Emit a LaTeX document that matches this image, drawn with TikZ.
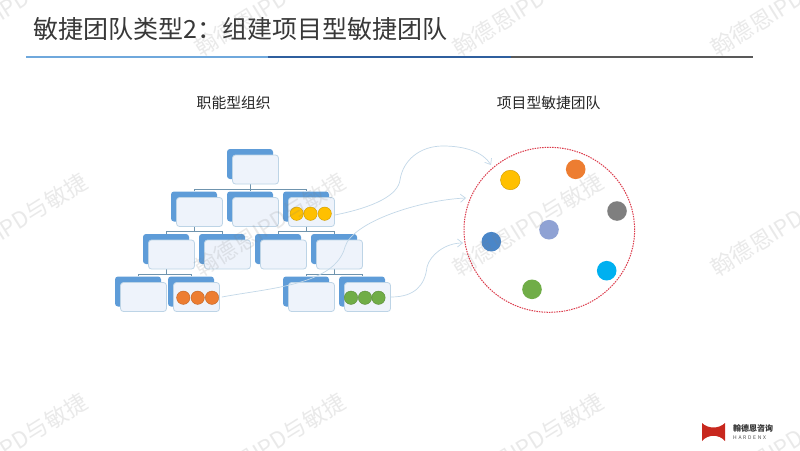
\documentclass[tikz,border=0pt]{standalone}
\usepackage{fontspec}
\setmainfont{Noto Sans CJK SC}
\usepackage{tikz}
\usetikzlibrary{trees,shapes.geometric,arrows.meta}

\definecolor{unitblue}{HTML}{5E9CD8}
\definecolor{unitpale}{HTML}{EEF3FB}
\definecolor{unitedge}{HTML}{BDD4E6}
\definecolor{treeline}{HTML}{6F94AE}
\definecolor{flowline}{HTML}{C3D8E8}
\definecolor{teamred}{HTML}{DC3C4C}
\definecolor{dotyellow}{HTML}{FFC000}
\definecolor{dotorange}{HTML}{ED7D31}
\definecolor{dotgreen}{HTML}{70AD47}
\definecolor{dotgray}{HTML}{7F7F7F}
\definecolor{dotpurple}{HTML}{8FA2D4}
\definecolor{dotblue}{HTML}{4A86C8}
\definecolor{dotcyan}{HTML}{00B0F0}
\definecolor{logored}{HTML}{C8281E}
\definecolor{ruleone}{HTML}{6FA8DC}
\definecolor{ruletwo}{HTML}{2F5F9E}
\definecolor{rulethree}{HTML}{595959}

\begin{document}
\begin{tikzpicture}
[x=1pt,y=-1pt,grow=down,level distance=42.5pt,sibling distance=56pt]
\tikzset{
	unitback/.style = {rectangle, rounded corners=3pt, fill=unitblue, minimum width=46pt, minimum height=30pt, inner sep=0},
	unitfront/.style = {rectangle, rounded corners=3pt, draw=unitedge, line width=.8pt, fill=unitpale, minimum width=46pt, minimum height=29pt, inner sep=0},
	smalldot/.style = {circle, draw=#1!80!black, line width=.4pt, fill=#1, minimum size=13.4pt, inner sep=0},
	teamdot/.style = {circle, fill=#1, minimum size=19.6pt, inner sep=0},
	teamring/.style = {ellipse, draw=teamred, dash pattern=on 1.5pt off 1pt, line width=1pt, minimum width=170.6pt, minimum height=165pt, inner sep=0},
	flow/.style = {draw=flowline, line width=.7pt},
	flowin/.style = {flow, -{Straight Barb[length=5pt,width=8pt]}},
	heading/.style = {text=black!85, font=\fontsize{14.8}{14.8}\selectfont, inner sep=0},
	watermark/.style = {rotate=32, text=gray, opacity=.17, font=\fontsize{22.5}{22.5}\selectfont},
	edge from parent/.style = {draw=treeline, line width=.9pt},
	edge from parent path = {(\tikzparentnode.south) -- ++(0,10) -| (\tikzchildnode.north)}
}

\useasboundingbox (0,0) rectangle (800,450);
\fill[white] (0,0) rectangle (800,450);

% title
\node(title) [anchor=west,text=black!78,font=\fontsize{25}{25}\selectfont,inner sep=0] at (33,29) {敏捷团队类型2：组建项目型敏捷团队};
\fill[ruleone] (25.5,56) rectangle (268,58);
\fill[ruletwo] (268,56) rectangle (511,58);
\fill[rulethree] (511,56) rectangle (753,58);

\node(orglabel) [heading] at (233.7,103) {职能型组织};
\node(teamlabel) [heading] at (548.7,103) {项目型敏捷团队};

% organisation tree
\node(0) [unitback] at (250,164) {}
	child{
		node [unitback] {}
		child{
			node [unitback] {}
			child{
				node [unitback] {}
			}
			child{
				node [unitback,xshift=-3pt] {}
			}
		}
		child{
			node [unitback] {}
		}
	}
	child{
		node [unitback] {}
	}
	child{
		node [unitback] {}
		child{
			node [unitback] {}
		}
		child{
			node [unitback] {}
			child{
				node [unitback] {}
			}
			child{
				node [unitback] {}
			}
		}
	}
;

\foreach \unit in {0,0-1,0-2,0-3,0-1-1,0-1-2,0-3-1,0-3-2,0-1-1-1,0-1-1-2,0-3-2-1,0-3-2-2}
	\node(f\unit) [unitfront] at ([xshift=5.5pt,yshift=-5.5pt]\unit.center) {};

% people in the units
\foreach \i/\px in {1/296.7,2/310.5,3/324.7}
	\node(y\i) [smalldot=dotyellow] at (\px,213.7) {};
\foreach \i/\px in {1/183.3,2/197.7,3/212}
	\node(o\i) [smalldot=dotorange] at (\px,297.7) {};
\foreach \i/\px in {1/351,2/365,3/378.5}
	\node(g\i) [smalldot=dotgreen] at (\px,297.7) {};

% project team
\node(team) [teamring] at (549.3,229.8) {};
\node(tyellow) [teamdot=dotyellow,draw=dotyellow!80!black,line width=.4pt] at (510.3,180) {};
\node(torange) [teamdot=dotorange] at (575.7,169.3) {};
\node(tgray) [teamdot=dotgray] at (617,211) {};
\node(tpurple) [teamdot=dotpurple] at (549,229.7) {};
\node(tblue) [teamdot=dotblue] at (491.3,241.7) {};
\node(tcyan) [teamdot=dotcyan] at (606.7,270.7) {};
\node(tgreen) [teamdot=dotgreen] at (532,289.3) {};

% flows into the team
\coordinate(in1) at (491,165);
\coordinate(in2) at (466,198);
\coordinate(in3) at (463,243);

\draw[flowin] (f0-3.east) ++(0,3) .. controls (375,207) and (398,195) .. (400,180) .. controls (403,160) and (420,146) .. (443,146) .. controls (465,146) and (483,152) .. (in1);
\draw[flowin] (f0-1-1-2.east) ++(2,0) .. controls (270,288) and (335,285) .. (345,247) .. controls (352,222) and (420,200) .. (in2);
\draw[flowin] (f0-3-2-2.east) .. controls (415,297) and (425,285) .. (427,267) .. controls (430,255) and (445,243) .. (in3);

% logo
\fill[logored] (702,423) .. controls (708,429) and (719,429) .. (725,423) -- (725,441) .. controls (719,434) and (708,434) .. (702,441) -- cycle;
\node(logocn) [anchor=west,font=\fontsize{8}{8}\selectfont\bfseries,inner sep=0,text=black!80] at (733,428) {翰德恩咨询};
\node(logoen) [anchor=west,font=\fontsize{5}{5}\selectfont,inner sep=0,text=black!70] at (733,438) {H\,\,A\,\,R\,\,D\,\,E\,\,N\,\,X};

% watermarks
\foreach \wx in {12,270,528,786}
	\foreach \wy in {5,225,445}
		\node [watermark] at (\wx,\wy) {翰德恩IPD与敏捷};

\end{tikzpicture}
\end{document}
